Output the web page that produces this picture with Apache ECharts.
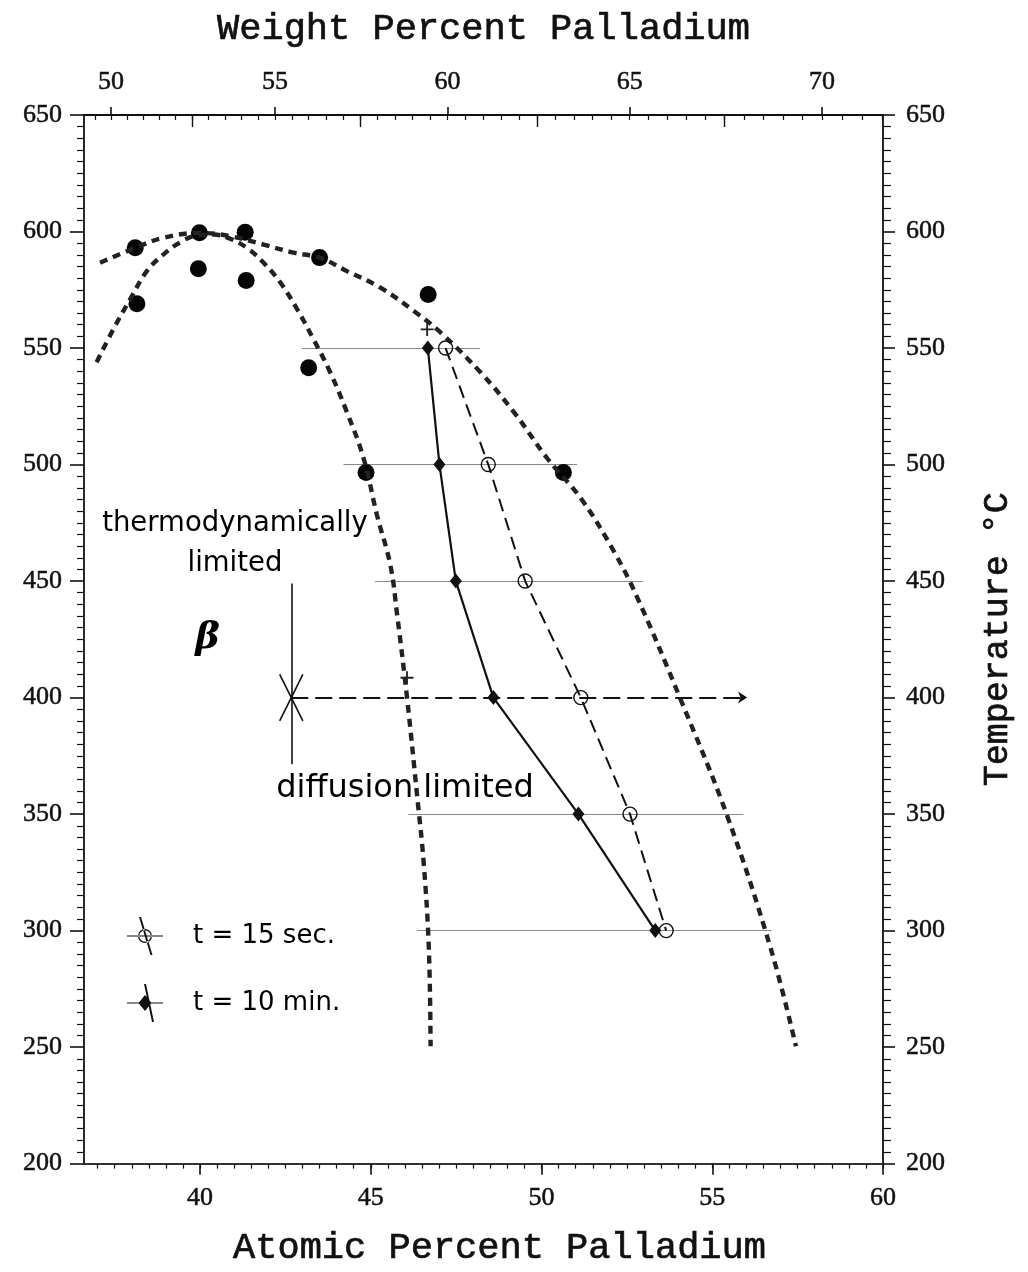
<!DOCTYPE html>
<html>
<head>
<meta charset="utf-8">
<title>Cu-Pd β phase field</title>
<script src="https://cdn.jsdelivr.net/npm/echarts@6/dist/echarts.min.js"></script>
<style>
  html, body { margin: 0; padding: 0; background: #fff; }
  #chart { width: 1028px; height: 1272px; }
</style>
</head>
<body>
<div id="chart"></div>
<script>
// ---- axis ticks ----
const atomicTicks = [40, 45, 50, 55, 60];          // bottom axis labels (at.% Pd)
const weightTicks = [50, 55, 60, 65, 70];          // top axis labels (wt.% Pd)
const weightMidTicks = [52.5, 57.5, 62.5, 67.5];   // longer inner ticks on the top axis

// ---- β phase boundaries (dashed curves), [at.% Pd, °C] ----
const boundaryInner = [
  [36.97, 543.9], [37.46, 558.1], [37.95, 570.9], [38.44, 583.0], [38.93, 590.2],
  [39.42, 595.4], [39.90, 598.3], [40.39, 598.7], [40.88, 596.9], [41.37, 593.0],
  [41.86, 586.6], [42.35, 578.1], [42.84, 566.7], [43.32, 553.8], [43.81, 539.6],
  [44.30, 522.5], [44.79, 502.6], [45.18, 478.3], [45.57, 457.0], [45.77, 435.6],
  [46.06, 400.0], [46.36, 357.3], [46.55, 328.8], [46.70, 291.9], [46.75, 250.4]
];
const boundaryOuter = [
  [37.07, 586.6], [38.10, 593.0], [38.93, 597.3], [39.98, 599.4], [40.88, 598.0],
  [41.86, 594.4], [42.74, 590.9], [43.50, 588.8], [44.30, 583.0], [45.28, 575.9],
  [46.26, 565.9], [47.04, 556.7], [48.21, 539.6], [49.19, 522.5], [50.17, 502.6],
  [51.15, 485.5], [52.12, 462.7], [52.81, 442.7], [54.05, 400.0], [55.45, 348.7],
  [56.72, 291.9], [57.45, 250.4]
];

// ---- measured points (filled circles) and "+" marks ----
const measured = [
  [38.10, 593.0], [38.15, 569.0], [39.98, 599.5], [39.95, 584.0], [41.32, 599.7],
  [41.35, 579.0], [43.50, 588.8], [46.68, 573.0], [43.18, 541.5], [44.86, 496.6],
  [50.64, 496.6]
];
const plusMarks = [[46.65, 558.0], [46.06, 408.5]];

// ---- annealing series ----
const temps = [550, 500, 450, 400, 350, 300];
const pd15sec = [47.19, 48.44, 49.52, 51.15, 52.59, 53.65];
const pd10min = [46.67, 47.01, 47.49, 48.59, 51.08, 53.33];

// ---- composition spread lines at each temperature ----
const spreadTemps = [550, 500, 450, 350, 300];
const spreadFrom  = [42.98, 44.20, 45.12, 46.10, 46.35];
const spreadTo    = [48.20, 51.04, 52.97, 55.91, 56.74];

// ---- 400 °C arrow and the limit marker ----
const arrowTemp = 400, arrowFrom = 42.67, arrowTo = 56.02;
const markerPd = 42.67, markerTop = 449.0, markerBottom = 371.4;
const markerArmPd = 0.34, markerArmT = 10;

// ---- text notes ----
const notes = [
  { text: 'thermodynamically\nlimited', pd: 41.02, t: 466, size: 27.5, lh: 40 },
  { text: 'diffusion limited', pd: 46.0, t: 361, size: 32, lh: 40 }
];
const betaNote = { text: 'β', pd: 40.22, t: 425.5 };

// ---- Cu-Pd weight/atomic conversion for the top axis ----
const M_PD = 106.42, M_CU = 63.546;
function wtToAt(w) { const p = w / M_PD, c = (100 - w) / M_CU; return 100 * p / (p + c); }
function atToWt(a) { const p = a * M_PD, c = (100 - a) * M_CU; return 100 * p / (p + c); }

const X_MIN = 36.6, X_MAX = 60;
const atomicMinor = [];
for (let v = 37; v <= 60.001; v += 0.5) atomicMinor.push(+v.toFixed(1));
const weightMinor = [];
for (let w = 49.5; w <= 71.5; w += 0.5) weightMinor.push(wtToAt(w));

const INK = '#111';
const tickFont = {
  fontFamily: 'Liberation Serif', fontSize: 26, color: INK,
  textBorderColor: INK, textBorderWidth: 0.5
};
const titleFont = {
  fontFamily: 'Liberation Mono', fontSize: 37, color: INK,
  textBorderColor: INK, textBorderWidth: 0.7
};

function xBase(extra) {
  return Object.assign({
    type: 'value', min: X_MIN, max: X_MAX, gridIndex: 0,
    splitLine: { show: false },
    axisLine: { show: false, onZero: false },
    axisLabel: { show: false },
    axisTick: { show: false }
  }, extra);
}

const chart = echarts.init(document.getElementById('chart'), null, { renderer: 'canvas' });

const option = {
  animation: false,
  backgroundColor: '#fff',
  grid: { left: 84, right: 145, top: 115, bottom: 104, containLabel: false },
  legend: {
    orient: 'vertical',
    left: 122, top: 912,
    itemWidth: 36, itemHeight: 38, itemGap: 29,
    selectedMode: false,
    textStyle: { fontFamily: 'DejaVu Sans', fontSize: 26, color: '#000', padding: [0, 0, 0, 25] },
    data: [
      {
        name: 't = 15 sec.',
        icon: 'path://M0,18.6H36V19.4H0Z M11,19A7,7 0 1 0 25,19A7,7 0 1 0 11,19Z M12.2,19A5.8,5.8 0 1 1 23.8,19A5.8,5.8 0 1 1 12.2,19Z M12,0H14L25.5,38H23.5Z',
        itemStyle: { color: INK, borderWidth: 0, opacity: 1 }
      },
      {
        name: 't = 10 min.',
        icon: 'path://M0,18.6H36V19.4H0Z M11.5,19L18,11L24.5,19L18,27Z M17,0H19L27,38H25Z',
        itemStyle: { color: INK, borderWidth: 0, opacity: 1 }
      }
    ]
  },
  xAxis: [
    xBase({
      position: 'bottom',
      axisLine: { show: true, onZero: false, lineStyle: { color: '#333', width: 2.2 } },
      axisTick: { show: true, customValues: atomicTicks, length: 11, lineStyle: { color: INK, width: 1.6 } },
      axisLabel: Object.assign({ show: true, customValues: atomicTicks, margin: 22 }, tickFont),
      name: 'Atomic Percent Palladium',
      nameLocation: 'middle', nameGap: 66,
      nameTextStyle: Object.assign({ padding: [0, 0, 0, 32] }, titleFont)
    }),
    xBase({
      position: 'bottom',
      axisTick: { show: true, customValues: atomicMinor, length: 5, lineStyle: { color: INK, width: 1.2 } }
    }),
    xBase({
      position: 'top',
      axisLine: { show: true, onZero: false, lineStyle: { color: INK, width: 1.8 } },
      axisTick: { show: true, customValues: weightTicks.map(wtToAt), length: 8, lineStyle: { color: INK, width: 1.6 } },
      axisLabel: Object.assign({
        show: true, customValues: weightTicks.map(wtToAt), margin: 20,
        formatter: v => String(Math.round(atToWt(v)))
      }, tickFont),
      name: 'Weight Percent Palladium',
      nameLocation: 'middle', nameGap: 67,
      nameTextStyle: titleFont
    }),
    xBase({
      position: 'top',
      axisTick: { show: true, inside: true, customValues: weightMidTicks.map(wtToAt), length: 12, lineStyle: { color: INK, width: 1.4 } }
    }),
    xBase({
      position: 'top',
      axisTick: { show: true, inside: true, customValues: weightMinor, length: 5, lineStyle: { color: INK, width: 1.2 } }
    })
  ],
  yAxis: [
    {
      type: 'value', position: 'left', min: 200, max: 650, interval: 50,
      splitLine: { show: false },
      axisLine: { show: true, onZero: false, lineStyle: { color: INK, width: 1.8 } },
      axisTick: { show: true, length: 14, lineStyle: { color: INK, width: 1.6 } },
      minorTick: { show: true, splitNumber: 10, length: 7, lineStyle: { color: INK, width: 1.2 } },
      minorSplitLine: { show: false },
      axisLabel: Object.assign({ margin: 22 }, tickFont)
    },
    {
      type: 'value', position: 'right', min: 200, max: 650, interval: 50,
      splitLine: { show: false },
      axisLine: { show: true, onZero: false, lineStyle: { color: INK, width: 1.8 } },
      axisTick: { show: true, length: 12, lineStyle: { color: INK, width: 1.6 } },
      minorTick: { show: true, splitNumber: 10, length: 8, lineStyle: { color: INK, width: 1.2 } },
      minorSplitLine: { show: false },
      axisLabel: Object.assign({ margin: 23 }, tickFont),
      name: 'Temperature °C',
      nameLocation: 'middle', nameRotate: 90, nameGap: 97,
      nameTextStyle: Object.assign({}, titleFont, { fontSize: 35 })
    }
  ],
  series: [
    {
      name: 'spread', type: 'lines', coordinateSystem: 'cartesian2d', silent: true,
      lineStyle: { color: '#8a8a8a', width: 1.2, opacity: 1 },
      data: spreadTemps.map((t, i) => ({ coords: [[spreadFrom[i], t], [spreadTo[i], t]] }))
    },
    {
      name: 'arrow400', type: 'lines', coordinateSystem: 'cartesian2d', silent: true,
      symbol: ['none', 'arrow'], symbolSize: 9,
      lineStyle: { color: INK, width: 1.8, type: [17, 7], opacity: 1 },
      data: [{ coords: [[arrowFrom, arrowTemp], [arrowTo, arrowTemp]] }]
    },
    {
      name: 'limitMarker', type: 'lines', coordinateSystem: 'cartesian2d', silent: true,
      lineStyle: { color: INK, width: 1.6, opacity: 1 },
      data: [
        { coords: [[markerPd, markerTop], [markerPd, markerBottom]] },
        { coords: [[markerPd - markerArmPd, arrowTemp + markerArmT], [markerPd + markerArmPd, arrowTemp - markerArmT]] },
        { coords: [[markerPd + markerArmPd, arrowTemp + markerArmT], [markerPd - markerArmPd, arrowTemp - markerArmT]] }
      ]
    },
    {
      name: 'boundaryInner', type: 'line', smooth: 0.4, showSymbol: false, silent: true,
      lineStyle: { color: '#222', width: 4.4, type: [8, 6] },
      data: boundaryInner
    },
    {
      name: 'boundaryOuter', type: 'line', smooth: 0.4, showSymbol: false, silent: true,
      lineStyle: { color: '#222', width: 4.4, type: [8, 6] },
      data: boundaryOuter
    },
    {
      name: 'measured', type: 'scatter', silent: true,
      symbol: 'circle', symbolSize: 17,
      itemStyle: { color: '#050505', opacity: 1 },
      data: measured
    },
    {
      name: 'plus', type: 'scatter', silent: true,
      symbol: 'path://M4.3,0H5.7V4.3H10V5.7H5.7V10H4.3V5.7H0V4.3H4.3Z', symbolSize: 13,
      itemStyle: { color: '#222', opacity: 1 },
      data: plusMarks
    },
    {
      name: 't = 15 sec.', type: 'line', silent: true,
      symbol: 'circle', symbolSize: 14, showSymbol: true,
      lineStyle: { color: INK, width: 2, type: [13, 7] },
      itemStyle: { color: 'rgba(255,255,255,0)', borderColor: INK, borderWidth: 1.4 },
      data: temps.map((t, i) => [pd15sec[i], t]),
      z: 4
    },
    {
      name: 't = 10 min.', type: 'line', silent: true,
      symbol: 'diamond', symbolSize: [12, 15], showSymbol: true,
      lineStyle: { color: INK, width: 2.2 },
      itemStyle: { color: INK },
      data: temps.map((t, i) => [pd10min[i], t]),
      z: 4
    },
    {
      name: 'notes', type: 'scatter', silent: true,
      symbolSize: 1, itemStyle: { color: 'rgba(0,0,0,0)', opacity: 1 },
      data: notes.map(n => ({
        name: n.text, value: [n.pd, n.t],
        label: {
          show: true, position: 'inside', formatter: '{b}', align: 'center',
          fontFamily: 'DejaVu Sans', fontSize: n.size, lineHeight: n.lh,
          color: '#000', opacity: 1, textBorderWidth: 0
        }
      })).concat([{
        name: betaNote.text, value: [betaNote.pd, betaNote.t],
        label: {
          show: true, position: 'inside', formatter: '{b}',
          fontFamily: 'DejaVu Serif', fontStyle: 'italic', fontWeight: 'bold', fontSize: 37,
          color: '#000', opacity: 1, textBorderWidth: 0
        }
      }]),
      z: 6
    }
  ]
};

chart.setOption(option);
</script>
</body>
</html>
